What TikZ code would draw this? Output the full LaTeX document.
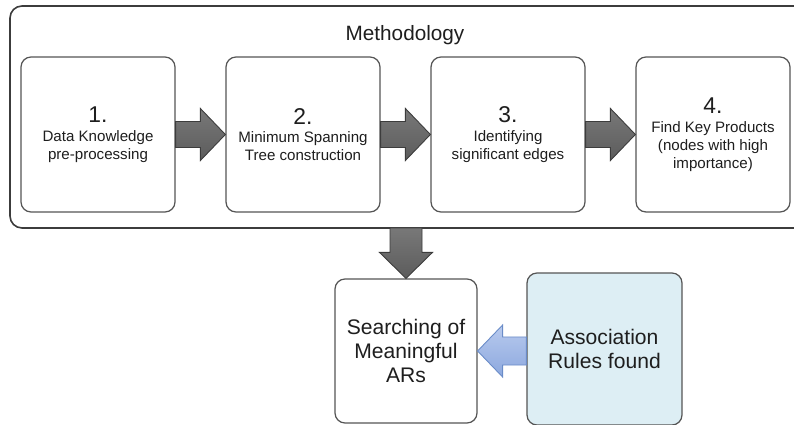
\documentclass[tikz,border=0pt]{standalone}
\usepackage{fontspec}
\setmainfont{Liberation Sans}
\usetikzlibrary{calc}

\definecolor{boxline}{HTML}{555555}
\definecolor{txt}{HTML}{1E1E1E}
\definecolor{arrowdark}{HTML}{3C3C3C}
\definecolor{arrowtop}{HTML}{787878}
\definecolor{arrowbot}{HTML}{5C5C5C}
\definecolor{lightblue}{HTML}{DDEEF4}
\definecolor{blueline}{HTML}{6A8CC8}
\definecolor{bluetop}{HTML}{B8CAEE}
\definecolor{bluebot}{HTML}{8CA8DE}

\tikzset{
    stepbox/.style={draw=boxline, line width=0.7pt, rounded corners=0.2cm, fill=white,
        minimum width=3.08cm, minimum height=3.1cm, align=center, text=txt,
        font=\fontsize{8.6}{10.2}\selectfont},
    lowbox/.style={stepbox, font=\fontsize{12}{13.7}\selectfont},
    grayarrow/.style={draw=arrowdark, line width=0.5pt, top color=arrowtop, bottom color=arrowbot},
    bluearrow/.style={draw=blueline, line width=0.5pt, top color=bluetop, bottom color=bluebot},
}

\newcommand{\num}[1]{{\fontsize{13}{13}\selectfont #1}\\[0.5pt]}

% flecha gruesa hacia la derecha entre dos anclas
\newcommand{\fatarrow}[3]{%
    \draw[#3] ($(#1)+(0,-13)$) -- ($(#2)+(-25,-13)$) -- ($(#2)+(-25,-26)$) -- (#2)
        -- ($(#2)+(-25,26)$) -- ($(#2)+(-25,13)$) -- ($(#1)+(0,13)$) -- cycle;}

\begin{document}
\begin{tikzpicture}[x=0.02cm, y=-0.02cm]
    \clip (0,0) rectangle (794,425);
    \fill[white] (0,0) rectangle (794,425);

    % marco metodologia
    \draw[draw=arrowdark, line width=0.9pt, rounded corners=0.24cm] (10,6) rectangle (840,228);
    \node[text=txt, font=\fontsize{11.8}{13}\selectfont] (title) at (405,35) {Methodology};
    \coordinate (methbot) at (406,228);

    % pasos
    \node[stepbox] (s1) at (98,134.5) {\num{1.}Data Knowledge\\pre-processing};
    \node[stepbox] (s2) at (303,134.5) {\num{2.}Minimum Spanning\\Tree construction};
    \node[stepbox] (s3) at (508,134.5) {\num{3.}Identifying\\significant edges};
    \node[stepbox] (s4) at (713,134.5) {\num{4.}Find Key Products\\(nodes with high\\importance)};

    \foreach \a/\b in {s1/s2, s2/s3, s3/s4}
        \fatarrow{\a.east}{\b.west}{grayarrow};

    % cajas de abajo
    \node[lowbox, minimum width=2.84cm, minimum height=2.88cm] (search) at (406,351)
        {Searching of\\Meaningful\\ARs};
    \node[lowbox, fill=lightblue, minimum width=3.1cm, minimum height=3.04cm] (assoc) at (604.5,349)
        {Association\\Rules found};

    % flecha hacia abajo
    \draw[grayarrow] ($(methbot)+(-16,0)$) -- ($(search.north)+(-16,-26)$) -- ($(search.north)+(-26.5,-26)$)
        -- (search.north) -- ($(search.north)+(26.5,-26)$) -- ($(search.north)+(16,-26)$)
        -- ($(methbot)+(16,0)$) -- cycle;

    % flecha azul
    \coordinate (bstart) at (search.east -| assoc.west);
    \draw[bluearrow] ($(bstart)+(0,-14)$) -- ($(search.east)+(25,-14)$) -- ($(search.east)+(25,-26)$)
        -- (search.east) -- ($(search.east)+(25,26)$) -- ($(search.east)+(25,14)$)
        -- ($(bstart)+(0,14)$) -- cycle;
\end{tikzpicture}
\end{document}
